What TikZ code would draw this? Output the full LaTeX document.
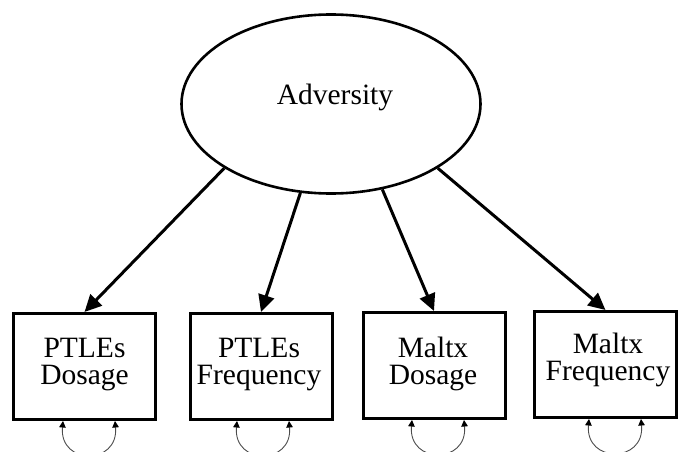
\documentclass[tikz,border=0pt]{standalone}
\usepackage{fontspec}
\setmainfont{Liberation Serif}
\usetikzlibrary{arrows.meta,shapes.geometric}

\tikzset{
  latent/.style={ellipse, draw=black, line width=2.6pt, minimum width=299pt, minimum height=179pt, inner sep=0pt},
  obsbox/.style={rectangle, draw=black, line width=3pt, minimum width=142pt, minimum height=106pt, inner sep=0pt},
  lbl/.style={font=\fontsize{29.5}{26}\selectfont, inner sep=0pt, anchor=base},
  load/.style={line width=3pt, -{Triangle[length=17pt,width=16pt]}},
  resid/.style={line width=0.9pt, draw=black!70,
    {Triangle[length=6.5pt,width=6.5pt,color=black]}-{Triangle[length=6.5pt,width=6.5pt,color=black]}},
}

\newcommand{\twolines}[2]{\begin{tabular}[t]{@{}c@{}}#1\\#2\end{tabular}}

\begin{document}
\begin{tikzpicture}[x=1pt,y=-1pt]
  \useasboundingbox (0,0) rectangle (678,452);

  % latent factor
  \node[latent] (adv) at (331,104) {};
  \node[lbl] (advt) at (335,105) {Adversity};

  % observed indicators
  \node[obsbox] (b1) at (84.5,366.5) {};
  \node[obsbox] (b2) at (261,366.5) {};
  \node[obsbox] (b3) at (434,365.5) {};
  \node[obsbox] (b4) at (605.5,364.5) {};

  \node[lbl] (t1) at (84.5,357) {\twolines{PTLEs}{Dosage}};
  \node[lbl] (t2) at (259,357) {\twolines{PTLEs}{Frequency}};
  \node[lbl] (t3) at (433,357) {\twolines{Maltx}{Dosage}};
  \node[lbl] (t4) at (608,353) {\twolines{Maltx}{Frequency}};

  % factor loadings
  \draw[load] (adv.211) -- (b1.north);
  \draw[load] (adv.251) -- (b2.north);
  \draw[load] (adv.301) -- (b3.north);
  \draw[load] (adv.329) -- (b4.north);

  % residual variances
  \draw[resid] ([xshift=-21.5pt]b1.south) to[out=-95,in=-85,looseness=2.2] ([xshift=30.5pt]b1.south);
  \draw[resid] ([xshift=-24pt]b2.south) to[out=-95,in=-85,looseness=2.2] ([xshift=28pt]b2.south);
  \draw[resid] ([xshift=-22pt]b3.south) to[out=-95,in=-85,looseness=2.2] ([xshift=30pt]b3.south);
  \draw[resid] ([xshift=-16.5pt]b4.south) to[out=-95,in=-85,looseness=2.2] ([xshift=35.5pt]b4.south);
\end{tikzpicture}
\end{document}
